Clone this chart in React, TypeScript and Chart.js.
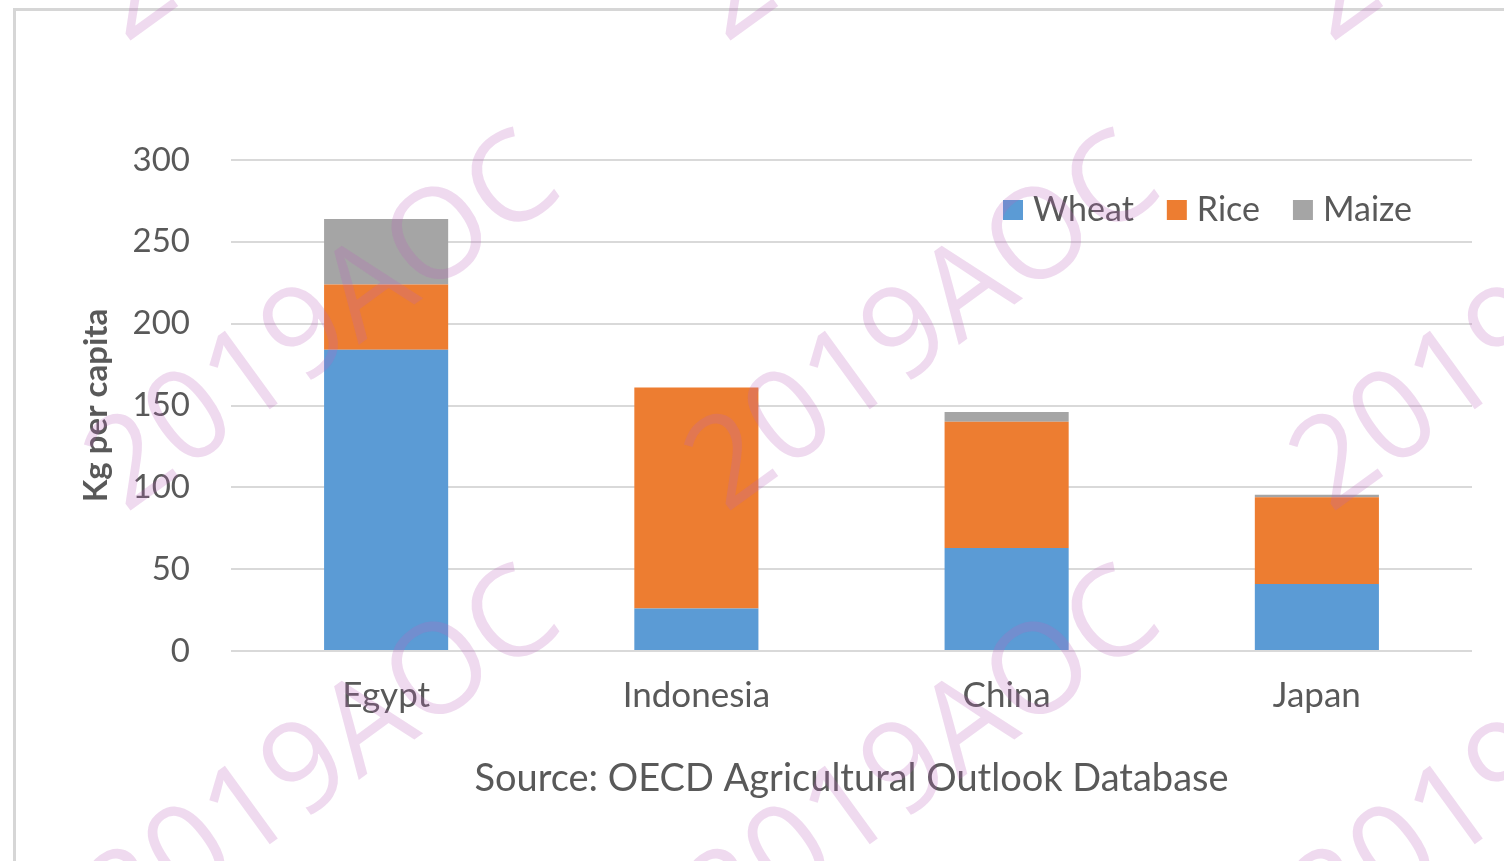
import React, { useEffect, useRef } from "react";
import { Chart, registerables } from "chart.js";

Chart.register(...registerables);

const categories = ["Egypt", "Indonesia", "China", "Japan"];
const wheat = [184, 26, 63, 41];
const rice = [40, 135, 77, 53];
const maize = [40, 0, 6, 1.5];
const seriesNames = ["Wheat", "Rice", "Maize"];
const seriesColors = ["#5B9BD5", "#ED7D31", "#A5A5A5"];
const yTicks = [0, 50, 100, 150, 200, 250, 300];
const yTitle = "Kg per capita";
const xTitle = "Source: OECD Agricultural Outlook Database";
const watermarkText = "2019AOC";

const FONT = "Lato, 'Open Sans', sans-serif";
const TEXT = "#595959";

const legendPlugin = {
  id: "customLegend",
  afterDatasetsDraw(chart: any) {
    const ctx = chart.ctx;
    ctx.save();
    ctx.font = `34px ${FONT}`;
    ctx.textBaseline = "middle";
    let x = 1003;
    const y = 210;
    chart.data.datasets.forEach((ds: any) => {
      ctx.fillStyle = ds.backgroundColor;
      ctx.fillRect(x, y - 10, 20, 20);
      x += 30;
      ctx.fillStyle = TEXT;
      ctx.fillText(ds.label, x, y);
      x += ctx.measureText(ds.label).width + 33;
    });
    ctx.restore();
  },
};

const watermarkPlugin = {
  id: "watermark",
  afterDraw(chart: any) {
    const ctx = chart.ctx;
    ctx.save();
    ctx.font = `126px 'Open Sans', ${FONT}`;
    ctx.fillStyle = "rgba(190, 100, 190, 0.24)";
    ctx.textAlign = "center";
    ctx.textBaseline = "middle";
    const rows = [-145, 325, 760];
    const cols = [325, 925, 1530];
    rows.forEach((ry) => {
      cols.forEach((cx) => {
        ctx.save();
        ctx.translate(cx, ry);
        ctx.rotate((-36 * Math.PI) / 180);
        ctx.fillText(watermarkText, 0, 0);
        ctx.restore();
      });
    });
    ctx.restore();
  },
};

export default function App() {
  const ref = useRef<HTMLCanvasElement>(null);

  useEffect(() => {
    if (!ref.current) return;
    const data = [wheat, rice, maize];
    const chart = new Chart(ref.current, {
      type: "bar",
      data: {
        labels: categories,
        datasets: seriesNames.map((name, i) => ({
          label: name,
          data: data[i],
          backgroundColor: seriesColors[i],
          borderWidth: 0,
          barPercentage: 0.4,
          categoryPercentage: 1.0,
        })),
      },
      options: {
        responsive: false,
        animation: false,
        layout: { padding: { top: 160, right: 32, left: 0, bottom: 0 } },
        plugins: {
          legend: { display: false },
          tooltip: { enabled: false },
        },
        scales: {
          x: {
            stacked: true,
            grid: { display: false, drawTicks: false },
            border: { display: false },
            ticks: {
              color: TEXT,
              font: { family: FONT, size: 35 },
              padding: 24,
            },
            title: {
              display: true,
              text: xTitle,
              color: TEXT,
              font: { family: FONT, size: 38 },
              padding: { top: 0, bottom: 59 },
            },
            afterFit(scale: any) {
              scale.height = 861 - 651;
            },
          },
          y: {
            stacked: true,
            min: 0,
            max: 300,
            afterBuildTicks(scale: any) {
              scale.ticks = yTicks.map((v) => ({ value: v }));
            },
            grid: { color: "#D9D9D9", lineWidth: 2, drawTicks: false },
            border: { display: false },
            ticks: {
              color: TEXT,
              font: { family: FONT, size: 33 },
              padding: 41,
            },
            title: {
              display: true,
              text: yTitle,
              color: TEXT,
              font: { family: FONT, size: 33, weight: "bold" },
              padding: { top: 77, bottom: 0 },
            },
            afterFit(scale: any) {
              scale.width = 231;
            },
          },
        },
      },
      plugins: [legendPlugin, watermarkPlugin],
    });
    return () => chart.destroy();
  }, []);

  return (
    <div
      style={{
        position: "fixed",
        left: 0,
        top: 0,
        width: 1504,
        height: 861,
        overflow: "hidden",
        background: "#fff",
      }}
    >
      <div
        style={{
          position: "absolute",
          left: 13,
          top: 8,
          width: 1600,
          height: 1000,
          border: "3px solid #D6D6D6",
          boxSizing: "border-box",
        }}
      />
      <canvas
        ref={ref}
        width={1504}
        height={861}
        style={{ position: "absolute", left: 0, top: 0 }}
      />
    </div>
  );
}
